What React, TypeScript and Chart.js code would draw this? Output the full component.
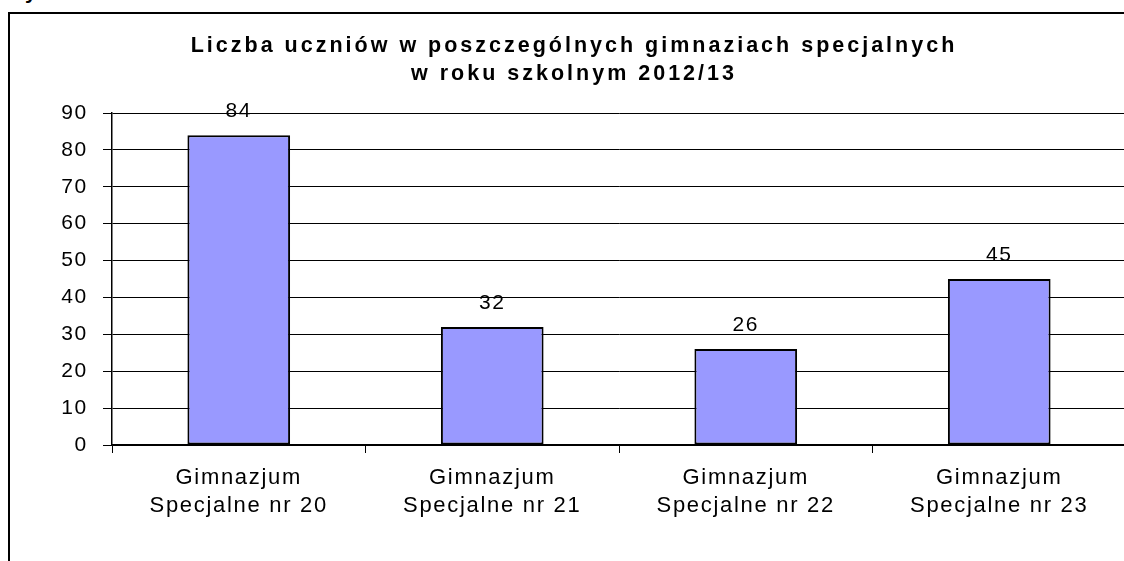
import React, { useEffect, useRef } from "react";
import { Chart, registerables } from "chart.js";

Chart.register(...registerables);

const categories: string[][] = [
  ["Gimnazjum", "Specjalne nr 20"],
  ["Gimnazjum", "Specjalne nr 21"],
  ["Gimnazjum", "Specjalne nr 22"],
  ["Gimnazjum", "Specjalne nr 23"],
];
const values: number[] = [84, 32, 26, 45];
const titleLines: string[] = [
  "Liczba uczniów w poszczególnych gimnaziach specjalnych",
  "w roku szkolnym 2012/13",
];
const yMin = 0;
const yMax = 90;
const yStep = 10;

const FONT = "'Liberation Sans', Arial, sans-serif";

export default function App() {
  const ref = useRef<HTMLCanvasElement | null>(null);

  useEffect(() => {
    if (!ref.current) return;
    const spacingPlugin = {
      id: "spacing",
      beforeDraw(chart: any) {
        chart.ctx.letterSpacing = "1.7px";
      },
    };
    const titlePlugin = {
      id: "customTitle",
      afterDraw(chart: any) {
        const ctx = chart.ctx;
        ctx.save();
        ctx.letterSpacing = "3px";
        ctx.font = `bold 21.5px ${FONT}`;
        ctx.fillStyle = "#000";
        ctx.textAlign = "center";
        ctx.textBaseline = "middle";
        const cx = chart.width / 2 + 1;
        titleLines.forEach((l, i) => ctx.fillText(l, cx, 32 + i * 28));
        ctx.restore();
      },
    };
    const labelPlugin = {
      id: "valueLabels",
      afterDatasetsDraw(chart: any) {
        const ctx = chart.ctx;
        const meta = chart.getDatasetMeta(0);
        ctx.save();
        ctx.letterSpacing = "1.5px";
        ctx.font = `21px ${FONT}`;
        ctx.fillStyle = "#000";
        ctx.textAlign = "center";
        ctx.textBaseline = "middle";
        meta.data.forEach((bar: any, i: number) => {
          ctx.fillText(String(values[i]), bar.x, bar.y - 24);
        });
        ctx.restore();
      },
    };
    const chart = new Chart(ref.current, {
      type: "bar",
      data: {
        labels: categories,
        datasets: [
          {
            data: values,
            backgroundColor: "#9999FF",
            borderColor: "#000000",
            borderWidth: 2,
            borderSkipped: false,
            barPercentage: 0.405,
            categoryPercentage: 1,
          },
        ],
      },
      options: {
        animation: false,
        responsive: false,
        maintainAspectRatio: false,
        layout: { padding: { top: 99, right: 10, left: 0, bottom: 0 } },
        plugins: {
          legend: { display: false },
          title: { display: false },
          tooltip: { enabled: false },
        },
        scales: {
          x: {
            grid: {
              offset: true,
              drawOnChartArea: false,
              drawTicks: true,
              tickLength: 8,
              color: "#000",
              lineWidth: 1,
            },
            border: { display: true, color: "#000", width: 1.5 },
            ticks: {
              color: "#000",
              font: { family: FONT, size: 22, lineHeight: 28 / 22 },
              padding: 11,
              maxRotation: 0,
              autoSkip: false,
            },
            afterFit(scale: any) {
              scale.height = 116;
            },
          },
          y: {
            min: yMin,
            max: yMax,
            grid: {
              color: "#000",
              lineWidth: 1,
              tickLength: 9,
            },
            border: { display: true, color: "#000", width: 1.5 },
            ticks: {
              stepSize: yStep,
              color: "#000",
              font: { family: FONT, size: 21 },
              padding: 15,
            },
            afterFit(scale: any) {
              scale.width = 102;
            },
          },
        },
      },
      plugins: [spacingPlugin, labelPlugin, titlePlugin],
    });
    return () => chart.destroy();
  }, []);

  return (
    <div
      style={{
        position: "absolute",
        left: 0,
        top: 0,
        width: 1124,
        height: 561,
        overflow: "hidden",
        background: "#fff",
      }}
    >
      <div
        style={{
          position: "absolute",
          left: 25,
          top: -20,
          font: `bold 21px ${FONT}`,
          color: "#000",
        }}
      >
        y
      </div>
      <div
        style={{
          position: "absolute",
          left: 8,
          top: 12,
          width: 1300,
          height: 800,
          borderLeft: "2px solid #000",
          borderTop: "2px solid #000",
        }}
      />
      <canvas
        ref={ref}
        width={1126}
        height={547}
        style={{ position: "absolute", left: 10, top: 14, width: 1126, height: 547 }}
      />
    </div>
  );
}
